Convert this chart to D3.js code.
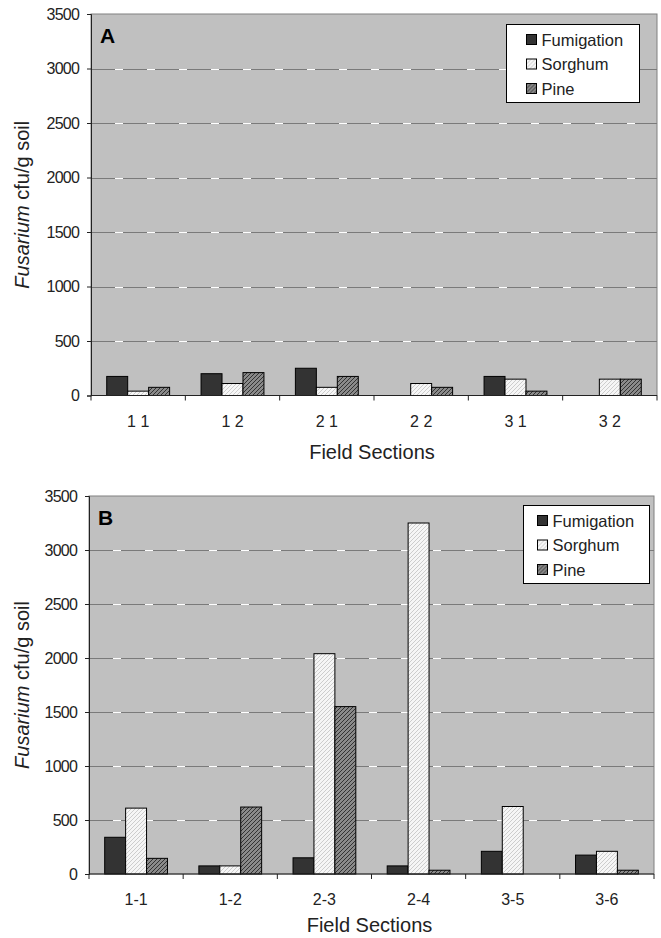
<!DOCTYPE html>
<html>
<head>
<meta charset="utf-8">
<script src="https://cdn.jsdelivr.net/npm/d3@7"></script>
<style>
  body { margin: 0; background: #fff; }
  svg { display: block; font-family: "Liberation Sans", Arial, sans-serif; }
</style>
</head>
<body>
<div id="chart"></div>
<script>
// data
var seriesNames = ["Fumigation", "Sorghum", "Pine"];
var sectionsA = ["1 1", "1 2", "2 1", "2 2", "3 1", "3 2"];
var fumigationA = [175, 200, 250, 0, 175, 0];
var sorghumA = [40, 110, 75, 110, 150, 150];
var pineA = [75, 210, 175, 75, 40, 150];
var sectionsB = ["1-1", "1-2", "2-3", "2-4", "3-5", "3-6"];
var fumigationB = [340, 75, 150, 75, 210, 175];
var sorghumB = [610, 75, 2040, 3250, 625, 210];
var pineB = [145, 620, 1550, 35, 0, 35];
var yTicks = [0, 500, 1000, 1500, 2000, 2500, 3000, 3500];

var svg = d3.select("#chart").append("svg")
  .attr("width", 661)
  .attr("height", 938);

// hatch patterns for sorghum and pine
var defs = svg.append("defs");
function hatch(id, bg, fg) {
  var p = defs.append("pattern")
    .attr("id", id)
    .attr("patternUnits", "userSpaceOnUse")
    .attr("width", 4).attr("height", 4);
  p.append("rect").attr("width", 4).attr("height", 4).attr("fill", bg);
  p.append("path")
    .attr("d", "M-1,1 l2,-2 M0,4 l4,-4 M3,5 l2,-2")
    .attr("stroke", fg).attr("stroke-width", 1);
}
hatch("hatchSorghum", "#f6f6f6", "#cdcdcd");
hatch("hatchPine", "#8a8a8a", "#333333");
var fills = ["#333333", "url(#hatchSorghum)", "url(#hatchPine)"];

function drawPanel(cfg) {
  var g = svg.append("g");
  var x0 = d3.scaleBand().domain(cfg.sections).range([cfg.left, cfg.right]).padding(0);
  var bw = x0.bandwidth();
  var gap = bw * 1.5 / 4.5;
  var x1 = d3.scaleBand().domain(seriesNames).range([gap / 2, bw - gap / 2]).padding(0);
  var y = d3.scaleLinear().domain([0, 3500]).range([cfg.bottom, cfg.top]);

  // plot area
  g.append("rect")
    .attr("x", cfg.left).attr("y", cfg.top)
    .attr("width", cfg.right - cfg.left).attr("height", cfg.bottom - cfg.top)
    .attr("fill", "#c0c0c0")
    .attr("stroke", "#808080").attr("stroke-width", 1);

  // gridlines: gray with short white dashes
  var grid = g.append("g");
  yTicks.slice(1, -1).forEach(function(t) {
    grid.append("line")
      .attr("x1", cfg.left).attr("x2", cfg.right)
      .attr("y1", Math.round(y(t)) + 0.5).attr("y2", Math.round(y(t)) + 0.5)
      .attr("stroke", "#7a7a7a");
    grid.append("line")
      .attr("x1", cfg.left).attr("x2", cfg.right)
      .attr("y1", Math.round(y(t)) + 0.5).attr("y2", Math.round(y(t)) + 0.5)
      .attr("stroke", "#ffffff")
      .attr("stroke-dasharray", "8 24")
      .attr("stroke-dashoffset", 8);
  });

  // bars
  var rows = [];
  cfg.sections.forEach(function(s, i) {
    cfg.values.forEach(function(vals, k) {
      if (vals[i] > 0) rows.push({ section: s, key: seriesNames[k], value: vals[i], k: k });
    });
  });
  g.append("g").selectAll("rect")
    .data(rows)
    .enter().append("rect")
    .attr("x", function(d) { return x0(d.section) + x1(d.key); })
    .attr("y", function(d) { return y(d.value); })
    .attr("width", x1.bandwidth())
    .attr("height", function(d) { return cfg.bottom - y(d.value); })
    .attr("fill", function(d) { return fills[d.k]; })
    .attr("stroke", "#000").attr("stroke-width", 1);

  // y axis
  var yAxis = d3.axisLeft(y).tickValues(yTicks).tickFormat(d3.format("d")).tickSize(4).tickPadding(8);
  var yAxisG = g.append("g")
    .attr("transform", "translate(" + cfg.left + ",0)")
    .call(yAxis);
  yAxisG.select(".domain").attr("stroke", "#222");
  yAxisG.selectAll(".tick line").attr("stroke", "#222");
  yAxisG.selectAll(".tick text")
    .attr("fill", "#222")
    .style("font-size", "16px")
    .style("letter-spacing", "-0.8px")
    .style("font-family", "'Liberation Sans', Arial, sans-serif");

  // x axis: ticks on category boundaries
  var xAxisG = g.append("g")
    .attr("transform", "translate(0," + cfg.bottom + ")");
  xAxisG.append("line")
    .attr("x1", cfg.left).attr("x2", cfg.right)
    .attr("stroke", "#222");
  var bounds = cfg.sections.map(function(s) { return x0(s); }).concat([cfg.right]);
  xAxisG.selectAll("line.tick")
    .data(bounds)
    .enter().append("line")
    .attr("class", "tick")
    .attr("x1", function(d) { return d; }).attr("x2", function(d) { return d; })
    .attr("y1", 0).attr("y2", 5)
    .attr("stroke", "#222");
  xAxisG.selectAll("text.lbl")
    .data(cfg.sections)
    .enter().append("text")
    .attr("class", "lbl")
    .attr("x", function(d) { return x0(d) + bw / 2; })
    .attr("y", 31)
    .attr("text-anchor", "middle")
    .attr("fill", "#222")
    .style("font-size", "16px")
    .text(function(d) { return d; });

  // axis titles
  g.append("text")
    .attr("x", (cfg.left + cfg.right) / 2 - 2)
    .attr("y", cfg.bottom + cfg.titleGap)
    .attr("text-anchor", "middle")
    .attr("fill", "#222")
    .style("font-size", "20px")
    .text("Field Sections");
  var yt = g.append("text")
    .attr("transform", "translate(29," + ((cfg.top + cfg.bottom) / 2) + ") rotate(-90)")
    .attr("text-anchor", "middle")
    .attr("fill", "#222")
    .style("font-size", "20px");
  yt.append("tspan").style("font-style", "italic").text("Fusarium");
  yt.append("tspan").text(" cfu/g soil");

  // panel letter
  g.append("text")
    .attr("x", cfg.left + 9)
    .attr("y", cfg.top + 29)
    .attr("fill", "#000")
    .style("font-size", "21px")
    .style("font-weight", "bold")
    .text(cfg.letter);

  // legend
  var lg = g.append("g").attr("transform", "translate(" + cfg.legend[0] + "," + cfg.legend[1] + ")");
  lg.append("rect")
    .attr("width", cfg.legend[2]).attr("height", 78)
    .attr("fill", "#fff").attr("stroke", "#000").attr("stroke-width", 1);
  seriesNames.forEach(function(name, k) {
    var row = lg.append("g").attr("transform", "translate(0," + (15 + k * 24.5) + ")");
    row.append("rect")
      .attr("x", cfg.legend[3]).attr("y", -5)
      .attr("width", 10).attr("height", 10)
      .attr("fill", fills[k]).attr("stroke", "#000");
    row.append("text")
      .attr("x", cfg.legend[3] + 15)
      .attr("y", 6)
      .attr("fill", "#222")
      .style("font-size", "16.5px")
      .text(name);
  });
}

drawPanel({
  letter: "A", left: 91, right: 657, top: 14, bottom: 395.5, titleGap: 63,
  sections: sectionsA, values: [fumigationA, sorghumA, pineA],
  legend: [506.5, 24.5, 133, 20]
});
drawPanel({
  letter: "B", left: 89, right: 654, top: 496, bottom: 874, titleGap: 58,
  sections: sectionsB, values: [fumigationB, sorghumB, pineB],
  legend: [523.5, 505.5, 126, 14]
});
</script>
</body>
</html>
